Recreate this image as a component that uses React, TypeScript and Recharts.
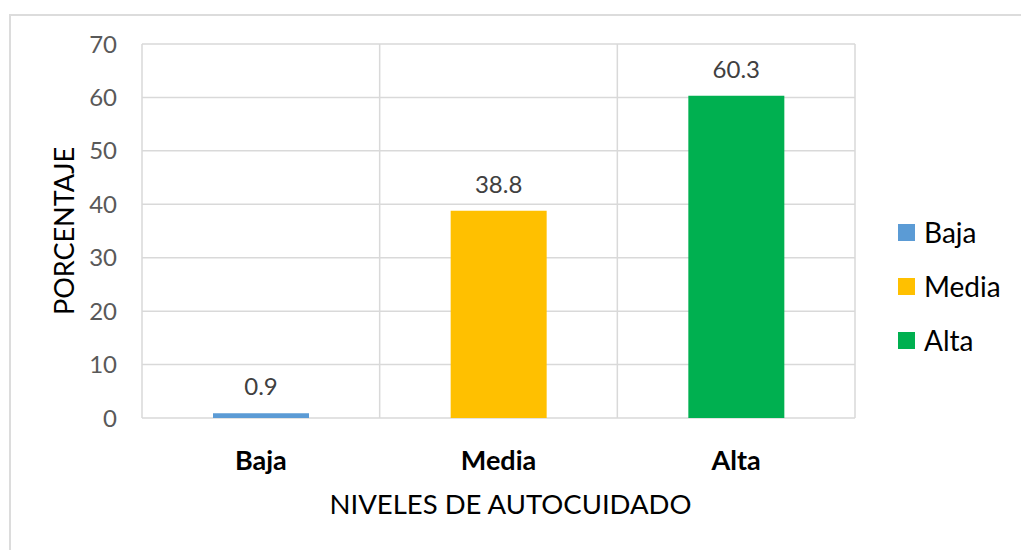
import { BarChart, Bar, XAxis, YAxis, CartesianGrid, Cell, LabelList } from 'recharts';

const categories = ['Baja', 'Media', 'Alta'];
const percentages = [0.9, 38.8, 60.3];
const barColors = ['#5b9bd5', '#ffc000', '#00b050'];
const yTicks = [0, 10, 20, 30, 40, 50, 60, 70];

const data = categories.map((name, i) => ({ name, value: percentages[i] }));

const FONT = 'Lato, "Open Sans", sans-serif';

export default function App() {
  return (
    <div style={{ position: 'absolute', left: 0, top: 0, width: 1021, height: 550, background: '#fff', fontFamily: FONT, overflow: 'hidden' }}>
      {/* chart frame */}
      <div style={{ position: 'absolute', left: 9, top: 14, width: 1040, height: 560, border: '2px solid #dcdcdc', boxSizing: 'border-box' }} />

      <div style={{ position: 'absolute', left: 0, top: 0 }}>
        <BarChart width={1021} height={550} data={data} margin={{ top: 44, right: 166, bottom: 0, left: 0 }}>
          <CartesianGrid
            stroke="#d9d9d9"
            strokeWidth={1.5}
            verticalCoordinatesGenerator={({ offset }: any) =>
              [0, 1, 2, 3].map((i) => offset.left + (i * offset.width) / categories.length)
            }
          />
          <XAxis
            dataKey="name"
            height={132}
            axisLine={false}
            tickLine={false}
            tickSize={0}
            tickMargin={33}
            tick={{ fontSize: 27, fontWeight: 700, fill: '#000', fontFamily: FONT }}
            label={({ viewBox }: any) => (
              <text
                x={viewBox.x + viewBox.width / 2 + 12}
                y={viewBox.y + 96}
                textAnchor="middle"
                style={{ fontSize: 27.5, fill: '#000', fontFamily: FONT }}
              >
                NIVELES DE AUTOCUIDADO
              </text>
            )}
          />
          <YAxis
            width={142}
            domain={[0, 70]}
            ticks={yTicks}
            axisLine={false}
            tickLine={false}
            tickSize={0}
            tickMargin={25}
            tick={{ fontSize: 24, fill: '#595959', fontFamily: FONT }}
            label={({ viewBox }: any) => {
              const cx = viewBox.x + 63;
              const cy = viewBox.y + viewBox.height / 2;
              return (
                <text
                  x={cx}
                  y={cy}
                  transform={`rotate(-90 ${cx} ${cy})`}
                  textAnchor="middle"
                  dominantBaseline="central"
                  style={{ fontSize: 27, fill: '#000', fontFamily: FONT }}
                >
                  PORCENTAJE
                </text>
              );
            }}
          />
          <Bar dataKey="value" barSize={96} isAnimationActive={false}>
            {data.map((d, i) => (
              <Cell key={d.name} fill={barColors[i]} />
            ))}
            <LabelList dataKey="value" position="top" offset={18} style={{ fontSize: 24, fill: '#404040', fontFamily: FONT }} />
          </Bar>
        </BarChart>
      </div>

      {/* legend */}
      <div style={{ position: 'absolute', left: 898, top: 205 }}>
        {categories.map((name, i) => (
          <div key={name} style={{ display: 'flex', alignItems: 'center', height: 54 }}>
            <span style={{ width: 17, height: 17, background: barColors[i], display: 'inline-block' }} />
            <span style={{ marginLeft: 9, fontSize: 28, color: '#000', lineHeight: '54px' }}>{name}</span>
          </div>
        ))}
      </div>
    </div>
  );
}
